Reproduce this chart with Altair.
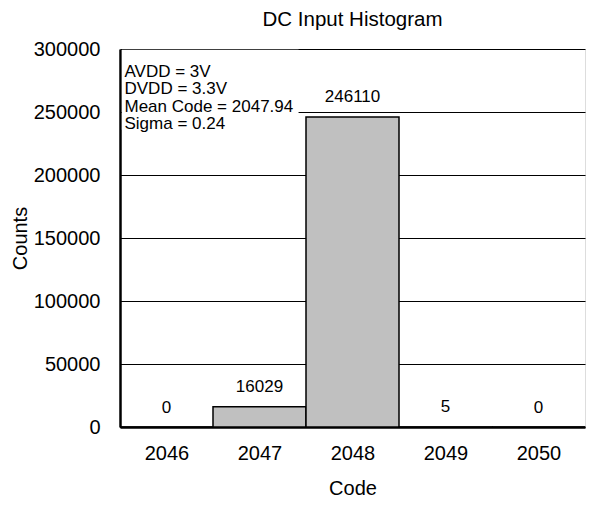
import altair as alt
import pandas as pd

codes = [2046, 2047, 2048, 2049, 2050]
counts = [0, 16029, 246110, 5, 0]
y_ticks = [0, 50000, 100000, 150000, 200000, 250000, 300000]
notes = ["AVDD = 3V", "DVDD = 3.3V", "Mean Code = 2047.94", "Sigma = 0.24"]
chart_title = "DC Input Histogram"
x_title = "Code"
y_title = "Counts"

FONT = "Liberation Sans"

df = pd.DataFrame({"code": codes, "count": counts})
note_df = pd.DataFrame({"note": ["\n".join(notes)]})
title_df = pd.DataFrame({"t": [chart_title]})

xscale = alt.Scale(domain=[codes[0] - 0.5, codes[-1] + 0.5], nice=False, zero=False)
yscale = alt.Scale(domain=[y_ticks[0], y_ticks[-1]], nice=False)

xaxis = alt.Axis(
    title=x_title, values=codes, format="d", grid=False, ticks=False,
    labelPadding=16, labelFontSize=20, labelFont=FONT, labelColor="black",
    titleFontSize=20, titleFont=FONT, titleColor="black", titleFontWeight="normal",
    titleY=67.5, titleBaseline="alphabetic",
    domainColor="black", domainWidth=2.5,
)
yaxis = alt.Axis(
    title=y_title, values=y_ticks, format="d", grid=True, gridColor="black",
    gridWidth=1.2, gridOpacity=1, ticks=False,
    labelPadding=20, labelFontSize=20, labelFont=FONT, labelColor="black",
    titleFontSize=20, titleFont=FONT, titleColor="black", titleFontWeight="normal",
    titleX=-94, titleBaseline="alphabetic",
    domainColor="black", domainWidth=2.5,
)

bars = alt.Chart(df).transform_calculate(
    lo="datum.code - 0.5", hi="datum.code + 0.5"
).mark_bar(color="#c0c0c0", stroke="black", strokeWidth=1.5).encode(
    x=alt.X("lo:Q", scale=xscale, axis=xaxis),
    x2="hi:Q",
    y=alt.Y("count:Q", scale=yscale, axis=yaxis),
    y2=alt.datum(0),
)

labels = alt.Chart(df).mark_text(
    font=FONT, fontSize=17, baseline="alphabetic", dy=-14.5, color="black"
).encode(
    x=alt.X("code:Q", scale=xscale),
    y=alt.Y("count:Q", scale=yscale),
    text=alt.Text("count:Q", format="d"),
)

box = alt.Chart(note_df).mark_rect(color="white").encode(
    x=alt.datum(2045.52), x2=alt.datum(2047.42),
    y=alt.datum(299500), y2=alt.datum(236000),
)

note_text = alt.Chart(note_df).mark_text(
    font=FONT, fontSize=17, lineHeight=17.5, lineBreak="\n", align="left",
    baseline="top", dx=4.5, dy=14.7, color="black"
).encode(
    x=alt.datum(2045.5), y=alt.datum(300000), text="note:N",
)

title_text = alt.Chart(title_df).mark_text(
    font=FONT, fontSize=20.5, baseline="alphabetic", dx=0, dy=-22.6, color="black"
).encode(
    x=alt.datum(2048), y=alt.datum(300000), text="t:N",
)

chart = alt.layer(bars, box, labels, note_text, title_text).properties(
    width=465, height=378, autosize="none",
    padding={"left": 112, "top": 41, "right": 1, "bottom": 72},
).configure_view(stroke="black", strokeWidth=2).configure(font=FONT)

chart.save("out.html", embed_options={"renderer": "svg", "actions": False})
